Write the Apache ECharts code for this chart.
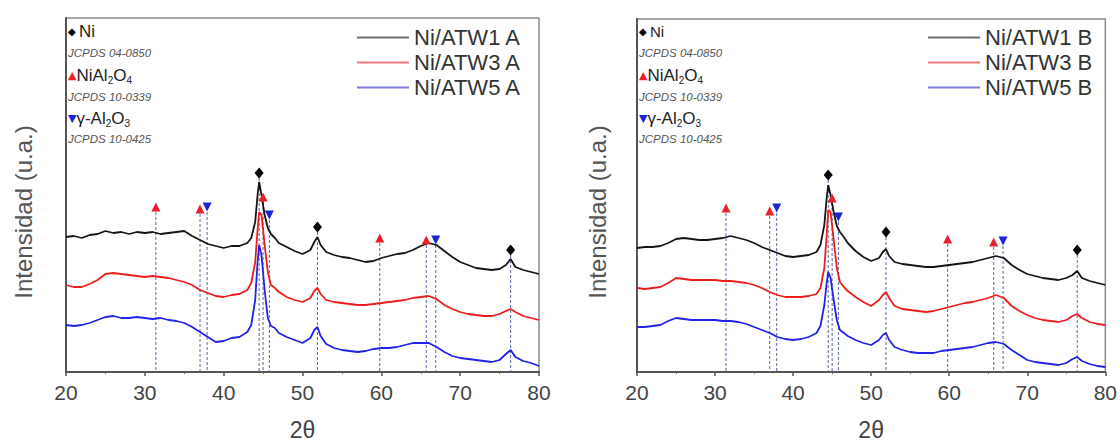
<!DOCTYPE html>
<html>
<head>
<meta charset="utf-8">
<script src="https://cdn.jsdelivr.net/npm/echarts@6/dist/echarts.min.js"></script>
<style>
  html, body { margin: 0; padding: 0; background: #fff; }
  #chart { width: 1120px; height: 447px; }
</style>
</head>
<body>
<div id="chart"></div>
<script>
// 2θ positions (degrees) of the sampled diffractogram points
const twoTheta = [20,21,22,23,24,25,26,27,28,29,30,31,32,33,34,35,36,37,38,39,40,41,42,43,
  43.5,44,44.3,44.5,44.8,45.2,45.6,46,46.5,47,48,49,50,51,51.5,51.9,52.3,
  53,54,55,56,57,58,59,60,61,62,63,64,65,66,67,68,69,70,71,72,73,74,75,75.8,76.4,77,78,79,80];

// Panel A intensities (arbitrary units, traces offset vertically)
const atw1A = [135,136,134,137,138,141,139,140,138,140,139,140,138,139,140,141,136,132,128,126,124,126,126,129,
  134,150,177,190,177,157,144,138,134,129,125,121,118,122,130,135,127,
  120,117,115,114,112,110,111,114,116,118,119,122,126,129,127,121,115,110,107,104,103,102,103,107,113,105,102,100,98];
const atw3A = [87,85,85,88,92,98,99,98,97,96,95,96,95,94,92,90,87,82,79,76,75,77,78,82,
  89,110,142,160,157,127,100,87,84,80,75,72,70,74,81,84,78,
  72,70,69,68,67,67,68,69,70,71,72,74,75,76,73,67,63,60,58,57,56,56,58,61,63,60,56,54,52];
const atw5A = [47,46,47,49,52,55,56,54,54,55,54,53,54,52,51,49,45,40,35,30,31,34,35,40,
  47,72,110,127,117,82,54,46,44,39,35,32,29,34,42,45,36,
  28,24,22,21,20,21,23,24,24,25,27,29,29,29,25,20,16,14,13,12,11,10,12,18,22,15,11,9,6];

// Panel B intensities
const atw1B = [124,125,125,126,129,133,134,133,132,132,133,134,136,134,132,129,125,122,119,116,115,116,117,120,
  127,147,174,187,177,160,146,140,135,129,121,115,111,114,120,123,116,
  110,108,107,106,105,105,106,107,108,109,110,112,114,116,114,107,102,98,96,94,93,92,94,97,101,94,91,89,87];
const atw3B = [84,83,84,85,89,94,93,92,92,92,92,91,91,90,89,87,84,80,77,75,75,75,76,78,
  84,104,137,162,160,132,104,90,85,81,75,70,66,72,77,80,74,
  66,63,62,61,60,61,63,65,67,69,70,72,74,77,74,66,61,57,54,52,51,50,52,56,58,54,50,48,47];
const atw5B = [45,45,46,47,51,54,53,52,52,52,52,51,51,50,48,45,42,39,35,33,32,33,35,39,
  46,67,89,100,94,72,52,42,39,36,32,29,27,32,37,39,32,
  25,22,20,19,19,19,21,22,23,24,25,27,29,30,28,22,17,12,10,9,8,7,9,13,15,11,8,6,5];

// Reference reflections (2θ) for each phase
const niPeaks      = [44.5, 51.9, 76.4];
const spinelPeaks  = [31.4, 37.0, 45.0, 59.8, 65.7];
const aluminaPeaks = [37.9, 45.8, 66.9];

// Height at which each phase marker sits, per panel
const niMarkA      = [199, 145, 122];
const spinelMarkA  = [165, 163, 175, 134, 132];
const aluminaMarkA = [165, 157, 132];
const niMarkB      = [197, 140, 122];
const spinelMarkB  = [164, 161, 174, 133, 130];
const aluminaMarkB = [164, 155, 131];

const seriesNamesA = ['Ni/ATW1 A', 'Ni/ATW3 A', 'Ni/ATW5 A'];
const seriesNamesB = ['Ni/ATW1 B', 'Ni/ATW3 B', 'Ni/ATW5 B'];

const COLORS = ['#151515', '#ee1d1d', '#2222e8'];
const LEGEND_COLORS = ['#6e6e6e', '#ef7878', '#7d7dd8'];
const FONT = 'Liberation Sans, Arial, sans-serif';
const SYM_FONT = 'DejaVu Sans, sans-serif';

const pairs = (xs, ys) => xs.map((x, i) => [x, ys[i]]);

const grids = [
  { left: 66, top: 18, width: 473, height: 354 },
  { left: 637, top: 19, width: 470, height: 353 }
];

function xAxisFor(idx) {
  return {
    type: 'value', gridIndex: idx, min: 20, max: 80, interval: 10,
    name: '2θ', nameLocation: 'middle', nameGap: 46,
    nameTextStyle: { fontSize: 23, color: '#444', fontFamily: FONT },
    axisLine: { show: true, lineStyle: { color: '#555', width: 2 } },
    axisTick: { show: true, length: 4, lineStyle: { color: '#555', width: 1.5 } },
    minorTick: { show: true, splitNumber: 2, length: 2, lineStyle: { color: '#666' } },
    axisLabel: { fontSize: 21, color: '#444', margin: 10, fontFamily: FONT },
    splitLine: { show: false }
  };
}
function yAxisFor(idx, max) {
  return {
    type: 'value', gridIndex: idx, min: 0, max: max,
    axisLine: { show: true, lineStyle: { color: '#555', width: 2 } },
    axisTick: { show: false }, axisLabel: { show: false }, splitLine: { show: false }
  };
}

function traceSeries(idx, names, data) {
  return data.map((ys, i) => ({
    name: names[i], type: 'line', xAxisIndex: idx, yAxisIndex: idx,
    data: pairs(twoTheta, ys), showSymbol: false, symbol: 'none',
    lineStyle: { color: COLORS[i], width: 1.8 }, itemStyle: { color: COLORS[i] },
    z: 3, silent: true, animation: false
  }));
}

function dropSeries(idx, peaks, marks) {
  return {
    type: 'custom', xAxisIndex: idx, yAxisIndex: idx, z: 1, silent: true, animation: false,
    data: pairs(peaks, marks),
    renderItem: (params, api) => {
      const top = api.coord([api.value(0), api.value(1)]);
      const bottom = api.coord([api.value(0), 0]);
      return {
        type: 'line',
        shape: { x1: top[0], y1: top[1], x2: bottom[0], y2: bottom[1] },
        style: { stroke: '#5a66a6', lineWidth: 1, lineDash: [3, 2] }
      };
    }
  };
}

function markerSeries(idx, peaks, marks, symbol, rotate, color, size) {
  return {
    type: 'scatter', xAxisIndex: idx, yAxisIndex: idx, z: 5, silent: true, animation: false,
    data: pairs(peaks, marks), symbol: symbol, symbolRotate: rotate, symbolSize: size,
    itemStyle: { color: color, opacity: 1 }
  };
}

function panelSeries(idx, names, data, niM, spM, alM) {
  return [
    dropSeries(idx, niPeaks, niM),
    dropSeries(idx, spinelPeaks, spM),
    dropSeries(idx, aluminaPeaks, alM),
    ...traceSeries(idx, names, data),
    markerSeries(idx, niPeaks, niM, 'diamond', 0, '#000', [9, 11]),
    markerSeries(idx, spinelPeaks, spM, 'triangle', 0, '#e8202a', 9),
    markerSeries(idx, aluminaPeaks, alM, 'triangle', 180, '#1c22d8', 9)
  ];
}

function legendFor(names, left) {
  return {
    orient: 'vertical', left: left, top: 25, padding: 0, itemGap: 0,
    icon: 'rect', itemWidth: 52, itemHeight: 2,
    textStyle: { fontSize: 22, color: '#333', lineHeight: 25, fontFamily: FONT },
    data: names.map((n, i) => ({ name: n, itemStyle: { color: LEGEND_COLORS[i] } })),
    selectedMode: false
  };
}

// Phase key with reference card numbers, top-left inside each plot
function phaseKey(x0, niSize) {
  const sub = { fontSize: 10, lineHeight: 8, verticalAlign: 'bottom', fill: '#222', fontFamily: FONT };
  const main = { fontSize: 17, lineHeight: 20, fill: '#222', fontFamily: FONT };
  const card = { fontSize: 11.5, fontStyle: 'italic', fill: '#555', fontFamily: FONT };
  const rows = [
    { y: 31, text: '{d|◆} {n|Ni}', rich: { d: { fontSize: 10, fill: '#000', fontFamily: SYM_FONT }, n: Object.assign({}, main, { fontSize: niSize }) } },
    { y: 53, text: '{c|JCPDS 04-0850}', rich: { c: card } },
    { y: 75, text: '{t|▲}{n|NiAl}{s|2}{n|O}{s|4}', rich: { t: { fontSize: 11, fill: '#e8202a', fontFamily: SYM_FONT }, n: main, s: sub } },
    { y: 97, text: '{c|JCPDS 10-0339}', rich: { c: card } },
    { y: 118, text: '{t|▼}{n|γ-Al}{s|2}{n|O}{s|3}', rich: { t: { fontSize: 11, fill: '#1c22d8', fontFamily: SYM_FONT }, n: main, s: sub } },
    { y: 139, text: '{c|JCPDS 10-0425}', rich: { c: card } }
  ];
  return rows.map(r => ({
    type: 'text', x: x0, y: r.y, silent: true,
    style: { text: r.text, rich: r.rich, align: 'left', verticalAlign: 'middle', fontFamily: FONT }
  }));
}

function yTitle(x) {
  return {
    type: 'text', x: x, y: 212, rotation: Math.PI / 2, silent: true,
    style: { text: 'Intensidad (u.a.)', align: 'center', verticalAlign: 'middle',
             fontSize: 24, fill: '#555', fontFamily: FONT }
  };
}

const chart = echarts.init(document.getElementById('chart'), null, { renderer: 'svg' });
chart.setOption({
  animation: false,
  backgroundColor: '#fff',
  grid: grids.map(g => Object.assign({ show: true, borderColor: '#8a8a8a', borderWidth: 1.5, backgroundColor: 'transparent' }, g)),
  xAxis: [xAxisFor(0), xAxisFor(1)],
  yAxis: [yAxisFor(0, 354), yAxisFor(1, 353)],
  legend: [legendFor(seriesNamesA, 357), legendFor(seriesNamesB, 928)],
  graphic: [
    yTitle(23), yTitle(597),
    ...phaseKey(68, 17),
    ...phaseKey(639, 15)
  ],
  series: [
    ...panelSeries(0, seriesNamesA, [atw1A, atw3A, atw5A], niMarkA, spinelMarkA, aluminaMarkA),
    ...panelSeries(1, seriesNamesB, [atw1B, atw3B, atw5B], niMarkB, spinelMarkB, aluminaMarkB)
  ]
});
</script>
</body>
</html>
